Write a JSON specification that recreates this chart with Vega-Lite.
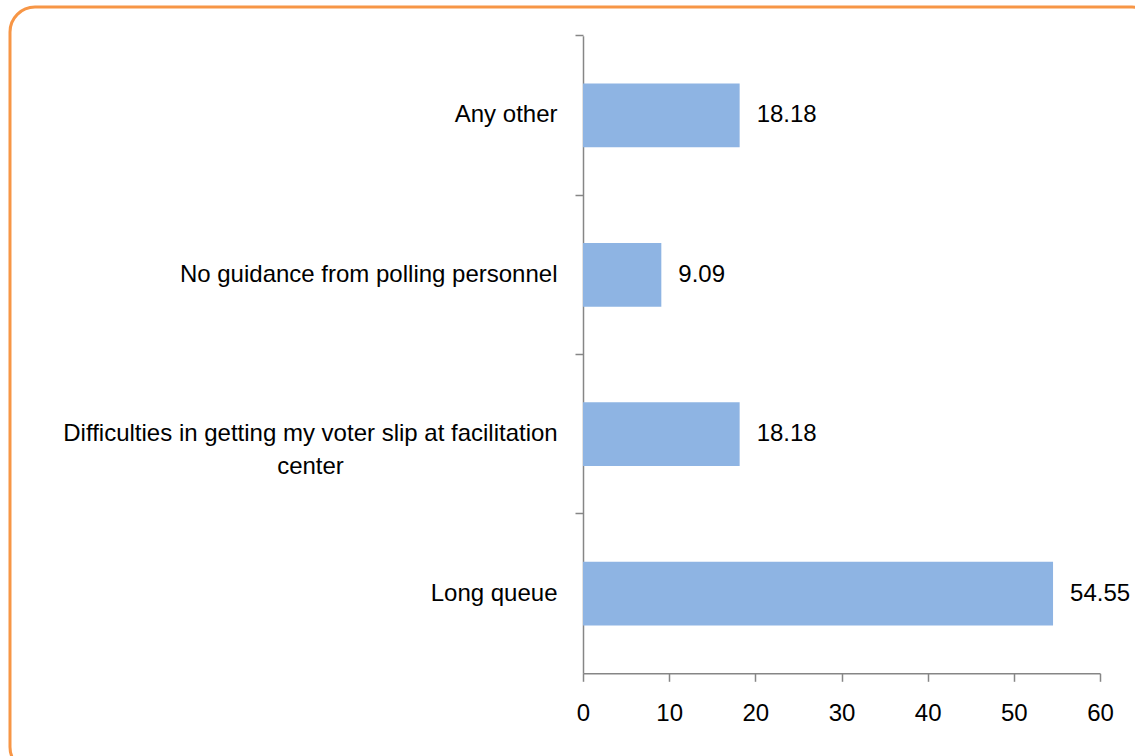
{
  "$schema": "https://vega.github.io/schema/vega-lite/v6.json",
  "autosize": "none",
  "width": 1147,
  "height": 765,
  "padding": {"left": 10, "top": 7, "right": -10, "bottom": -4},
  "background": "white",
  "config": {
    "view": {"stroke": "#F79646", "strokeWidth": 3, "cornerRadius": 25},
    "font": "Liberation Sans"
  },
  "data": {
    "values": [
      {"cat": "Any other", "v": 18.18},
      {"cat": "No guidance from polling personnel", "v": 9.09},
      {"cat": "Difficulties in getting my voter slip at facilitation center", "v": 18.18},
      {"cat": "Long queue", "v": 54.55}
    ]
  },
  "encoding": {
    "y": {
      "field": "cat",
      "type": "nominal",
      "sort": null,
      "scale": {"range": [28.7, 666.3], "paddingInner": 0, "paddingOuter": 0},
      "axis": {
        "title": null,
        "offset": -573,
        "bandPosition": 0,
        "domainColor": "#868686",
        "domainWidth": 1.5,
        "tickColor": "#868686",
        "tickWidth": 1.5,
        "tickSize": 8,
        "labelFontSize": 24,
        "labelColor": "black",
        "labelLimit": 0,
        "labelLineHeight": 33,
        "labelExpr": "datum.value == 'Difficulties in getting my voter slip at facilitation center' ? ['Difficulties in getting my voter slip at facilitation', 'center'] : datum.value",
        "labelAlign": {
          "condition": {"test": "datum.value == 'Difficulties in getting my voter slip at facilitation center'", "value": "center"},
          "value": "right"
        },
        "labelPadding": {
          "condition": {"test": "datum.value == 'Difficulties in getting my voter slip at facilitation center'", "value": 265},
          "value": 18
        }
      }
    },
    "x": {
      "field": "v",
      "type": "quantitative",
      "scale": {"domain": [0, 60], "range": [573, 1090], "nice": false},
      "axis": {
        "title": null,
        "offset": -98.7,
        "values": [0, 10, 20, 30, 40, 50, 60],
        "grid": false,
        "domainColor": "#868686",
        "domainWidth": 1.5,
        "tickColor": "#868686",
        "tickWidth": 1.5,
        "tickSize": 8,
        "labelFontSize": 24,
        "labelColor": "black",
        "labelPadding": 20,
        "labelFlush": false
      }
    }
  },
  "layer": [
    {"mark": {"type": "bar", "height": {"band": 0.4}, "color": "#8EB4E3"}},
    {
      "mark": {"type": "text", "align": "left", "baseline": "middle", "dx": 17, "fontSize": 24, "color": "black"},
      "encoding": {"text": {"field": "v", "type": "quantitative", "format": ".2f"}}
    }
  ]
}
